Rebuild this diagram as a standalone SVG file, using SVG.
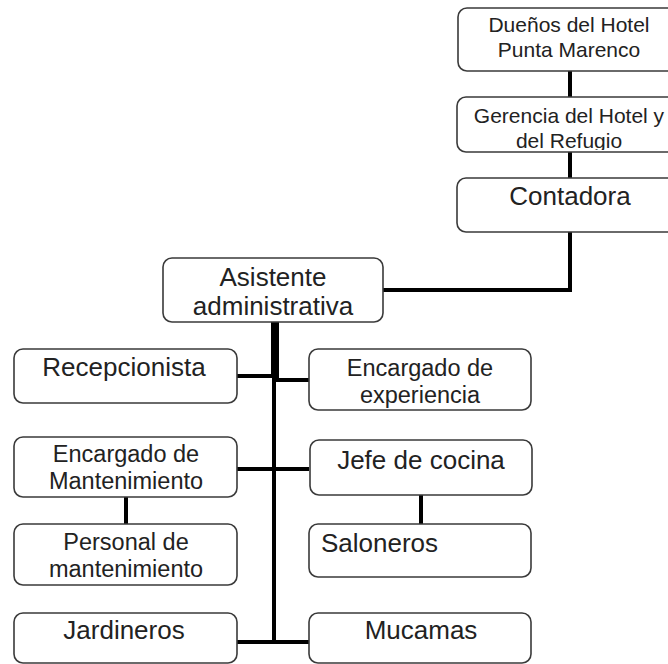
<svg xmlns="http://www.w3.org/2000/svg" width="668" height="664" viewBox="0 0 668 664">
<style>
.box{fill:#fff;stroke:#3a3a3a;stroke-width:1.6}
text{font-family:"Liberation Sans",Arial,sans-serif;fill:#222;text-anchor:middle}
.s{font-size:21px}
.m{font-size:23.5px}
.l{font-size:26px}
.c{stroke:#000;stroke-width:4;fill:none}
</style>
<defs>
<clipPath id="gclip"><rect x="457" y="97" width="230" height="53"/></clipPath>
</defs>
<g id="connectors">
<line class="c" x1="570" y1="71" x2="570" y2="97"/>
<line class="c" x1="570" y1="152" x2="570" y2="178"/>
<polyline class="c" points="570,232 570,290 383,290"/>
<line class="c" x1="275" y1="322" x2="275" y2="378" style="stroke-width:8"/>
<line class="c" x1="274" y1="378" x2="274" y2="644"/>
<line class="c" x1="237" y1="376" x2="276" y2="376"/>
<line class="c" x1="274" y1="380" x2="309" y2="380"/>
<line class="c" x1="237" y1="469" x2="309" y2="469"/>
<line class="c" x1="237" y1="642" x2="309" y2="642"/>
<line class="c" x1="126" y1="497" x2="126" y2="524"/>
<line class="c" x1="421" y1="495" x2="421" y2="524"/>
</g>
<g id="duenos">
<rect class="box" x="458" y="8" width="222" height="63" rx="9"/>
<text class="s" x="569" y="32">Dueños del Hotel</text>
<text class="s" x="569" y="57">Punta Marenco</text>
</g>
<g id="gerencia">
<rect class="box" x="457" y="97" width="222" height="55" rx="9"/>
<g clip-path="url(#gclip)">
<text class="s" x="569" y="123">Gerencia del Hotel y</text>
<text class="s" x="569" y="148">del Refugio</text>
</g>
</g>
<g id="contadora">
<rect class="box" x="457" y="178" width="222" height="54" rx="9"/>
<text class="l" x="570" y="205">Contadora</text>
</g>
<g id="asistente">
<rect class="box" x="163" y="258" width="220" height="64" rx="9"/>
<text class="l" x="273" y="286">Asistente</text>
<text class="l" x="273" y="315">administrativa</text>
</g>
<g id="recepcionista">
<rect class="box" x="14" y="349" width="223" height="54" rx="9"/>
<text class="l" x="124" y="376">Recepcionista</text>
</g>
<g id="experiencia">
<rect class="box" x="309" y="349" width="222" height="61" rx="9"/>
<text class="m" x="420" y="376">Encargado de</text>
<text class="m" x="420" y="403">experiencia</text>
</g>
<g id="mantenimiento">
<rect class="box" x="14" y="437" width="223" height="60" rx="9"/>
<text class="m" x="126" y="462">Encargado de</text>
<text class="m" x="126" y="489">Mantenimiento</text>
</g>
<g id="cocina">
<rect class="box" x="310" y="440" width="222" height="55" rx="9"/>
<text class="l" x="421" y="469">Jefe de cocina</text>
</g>
<g id="personal">
<rect class="box" x="14" y="524" width="223" height="61" rx="9"/>
<text class="m" x="126" y="550">Personal de</text>
<text class="m" x="126" y="577">mantenimiento</text>
</g>
<g id="saloneros">
<rect class="box" x="309" y="524" width="222" height="53" rx="9"/>
<text class="l" x="321" y="552" style="text-anchor:start">Saloneros</text>
</g>
<g id="jardineros">
<rect class="box" x="14" y="613" width="223" height="50" rx="9"/>
<text class="l" x="124" y="639">Jardineros</text>
</g>
<g id="mucamas">
<rect class="box" x="309" y="613" width="222" height="50" rx="9"/>
<text class="l" x="421" y="639">Mucamas</text>
</g>
</svg>
